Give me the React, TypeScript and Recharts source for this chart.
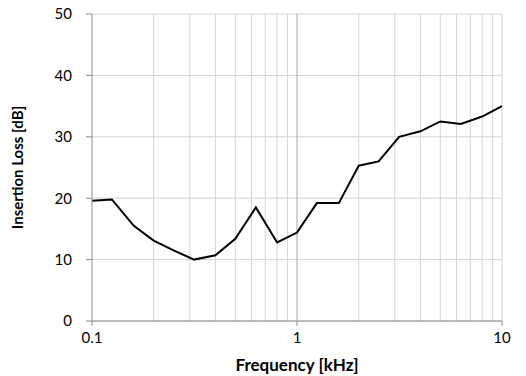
import React from 'react';
import {
  LineChart, Line, XAxis, YAxis, CartesianGrid, ReferenceLine,
} from 'recharts';

// one-third octave band centre frequencies (kHz)
const frequencies = [0.1, 0.125, 0.16, 0.2, 0.25, 0.315, 0.4, 0.5, 0.63, 0.8, 1, 1.25, 1.6, 2, 2.5, 3.15, 4, 5, 6.3, 8, 10];
// measured insertion loss per band (dB)
const insertionLoss = [19.6, 19.8, 15.5, 13.1, 11.5, 10.0, 10.7, 13.4, 18.5, 12.8, 14.4, 19.2, 19.2, 25.3, 26.0, 30.0, 30.9, 32.5, 32.1, 33.3, 35.0];

const xTicks = [0.1, 1, 10];
const yTicks = [0, 10, 20, 30, 40, 50];
// log grid lines between and at the end of the decades
const minorGrid = [0.2, 0.3, 0.4, 0.5, 0.6, 0.7, 0.8, 0.9, 2, 3, 4, 5, 6, 7, 8, 9, 10];

const data = frequencies.map((f, i) => ({ f, loss: insertionLoss[i] }));

const FONT = 'Lato, "Open Sans", sans-serif';
const GRID = '#d4d4d4';
const AXIS = '#8c8c8c';

export default function App() {
  return (
    <div style={{ position: 'fixed', left: 0, top: 0, background: '#fff' }}>
      <LineChart
        width={526}
        height={376}
        data={data}
        margin={{ top: 14, right: 24, left: 0, bottom: 0 }}
        style={{ fontFamily: FONT }}
      >
        <CartesianGrid stroke={GRID} vertical={false} />
        {minorGrid.map(v => (
          <ReferenceLine key={v} x={v} stroke={GRID} strokeWidth={1} ifOverflow="visible" />
        ))}
        <ReferenceLine x={1} stroke="#a6a6a6" strokeWidth={1} />
        <XAxis
          dataKey="f"
          type="number"
          scale="log"
          domain={[0.1, 10]}
          ticks={xTicks}
          allowDataOverflow
          height={55}
          stroke={AXIS}
          tickSize={5}
          tickMargin={6}
          tick={{ fill: '#000', fontSize: 15 }}
          label={{ value: 'Frequency [kHz]', position: 'insideBottom', offset: 5, fill: '#000', fontSize: 17, fontWeight: 700 }}
        />
        <YAxis
          type="number"
          domain={[0, 50]}
          ticks={yTicks}
          width={92}
          stroke={AXIS}
          tickSize={6}
          tickMargin={14}
          tick={{ fill: '#000', fontSize: 15 }}
          label={{ value: 'Insertion Loss [dB]', angle: -90, position: 'insideLeft', offset: 18, fill: '#000', fontSize: 15, fontWeight: 700, style: { textAnchor: 'middle' } }}
        />
        <Line
          dataKey="loss"
          type="linear"
          stroke="#000"
          strokeWidth={2}
          dot={false}
          isAnimationActive={false}
        />
      </LineChart>
    </div>
  );
}
